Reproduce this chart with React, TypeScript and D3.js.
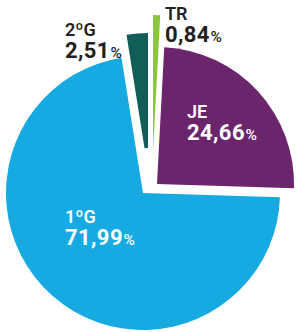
import React from "react";
import * as d3 from "d3";

// slice order clockwise from 12 o'clock
const categories = ["TR", "JE", "1ºG", "2ºG"];
const shares = [0.84, 24.66, 71.99, 2.51];
const colors = ["#8cc63f", "#6b256c", "#17aae2", "#115d57"];
const labelColors = ["#231f20", "#ffffff", "#ffffff", "#231f20"];

// layout: hand-tuned slice shifts (the source moved each slice by hand)
const shifts: [number, number][] = [
  [3, -36],
  [7, -4],
  [-7, 5],
  [-2, -18],
];
// thin slice tip is trimmed in the source
const tipCut = [0, 0, 0, 22];
const labelPos: [number, number][] = [
  [165, 20],
  [187, 118],
  [65, 223],
  [65, 36],
];

const W = 296;
const H = 332;
const R = 137;
const cx = 150;
const cy = 188;

const fmt = (v: number) => v.toFixed(2).replace(".", ",");

export default function App() {
  const pie = d3
    .pie<number>()
    .sort(null)
    .startAngle(0)
    .endAngle(2 * Math.PI)
    .value((d) => d);
  const arcs = pie(shares);

  return (
    <svg
      width={W}
      height={H}
      style={{ position: "absolute", left: 0, top: 0 }}
      fontFamily="Roboto, 'DejaVu Sans', sans-serif"
    >
      <rect width={W} height={H} fill="#ffffff" />
      {arcs.map((a, i) => {
        const path = d3
          .arc<d3.PieArcDatum<number>>()
          .innerRadius(tipCut[i])
          .outerRadius(R)(a) as string;
        return (
          <path
            key={categories[i]}
            d={path}
            fill={colors[i]}
            transform={`translate(${cx + shifts[i][0]}, ${cy + shifts[i][1]})`}
          />
        );
      })}
      {categories.map((c, i) => (
        <g key={c} fill={labelColors[i]} transform={`translate(${labelPos[i][0]}, ${labelPos[i][1]})`}>
          <text fontSize={18} fontWeight={600}>
            {c}
          </text>
          <text y={22} fontSize={22} fontWeight={700} letterSpacing={0.4}>
            {fmt(shares[i])}
            <tspan fontSize={15.5} fontWeight={500} dx={0.5}>
              %
            </tspan>
          </text>
        </g>
      ))}
    </svg>
  );
}
